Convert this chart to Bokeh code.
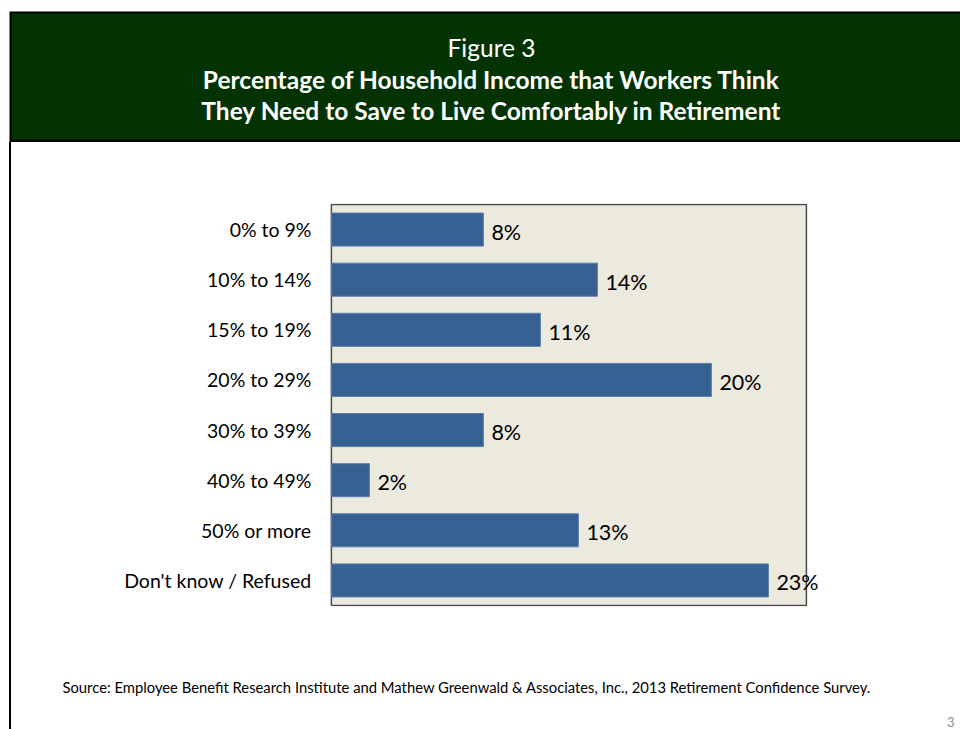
from bokeh.plotting import figure
from bokeh.models import ColumnDataSource, Range1d, FactorRange, LabelSet, BoxAnnotation, Div
from bokeh.layouts import column, row
from bokeh.core.properties import value
from bokeh.embed import file_html
from bokeh.resources import INLINE

# ---- data ----
categories = ["0% to 9%", "10% to 14%", "15% to 19%", "20% to 29%",
              "30% to 39%", "40% to 49%", "50% or more", "Don't know / Refused"]
percentages = [8, 14, 11, 20, 8, 2, 13, 23]
value_labels = [f"{v}%" for v in percentages]
axis_max = 25  # right edge of the plot area, in %

fig_number = "Figure 3"
title_lines = ["Percentage of Household Income that Workers Think",
               "They Need to Save to Live Comfortably in Retirement"]
source_note = ("Source:  Employee Benefit Research Institute and Mathew Greenwald & "
               "Associates, Inc., 2013 Retirement Confidence Survey.")
page_number = "3"

FONT = "Lato"
GREEN = "#033303"
BAR = "#376092"


def blank(width, height, xr, yr):
    f = figure(width=width, height=height, x_range=xr, y_range=yr,
               output_backend="svg", toolbar_location=None,
               x_axis_location=None, y_axis_location=None,
               min_border=0, min_border_left=0, min_border_right=0,
               min_border_top=0, min_border_bottom=0)
    f.grid.visible = False
    f.outline_line_color = None
    f.background_fill_color = "white"
    f.border_fill_color = "white"
    return f


def left_line(height):
    return Div(text="", width=2, height=height, margin=(0, 0, 0, 9),
               styles={"background-color": "black"})


# ---- header ----
H_W, H_H = 960, 142
header = blank(H_W, H_H, Range1d(0, H_W), Range1d(H_H, 0))
header.quad(left=9, right=H_W, top=11, bottom=H_H, fill_color="black", line_color=None)
header.quad(left=11, right=H_W, top=13, bottom=139, fill_color=GREEN, line_color=None)
header.text(x=[491], y=[47], text=[fig_number], text_color="white",
            text_font=value(FONT), text_font_size="24.5px",
            text_align="center", text_baseline="middle")
header.text(x=[491, 491], y=[79, 110], text=title_lines, text_color="white",
            text_font=value(FONT), text_font_size="24.5px", text_font_style="bold",
            text_align="center", text_baseline="middle")

# ---- main chart ----
M_W, M_H = 949, 518
src = ColumnDataSource(dict(cat=categories, val=percentages, lab=value_labels))
p = figure(width=M_W, height=M_H,
           y_range=FactorRange(*reversed(categories), range_padding=0.005),
           x_range=Range1d(-0.1, 27.9),
           output_backend="svg", toolbar_location=None,
           x_axis_location=None,
           min_border_left=318, min_border_right=99,
           min_border_top=61, min_border_bottom=54)
p.background_fill_color = "white"
p.border_fill_color = "white"
p.outline_line_color = None
p.grid.visible = False
plot_area = BoxAnnotation(left=0, right=axis_max, bottom=0, top=len(categories),
                          fill_color="#ECE9DF", fill_alpha=1.0,
                          line_color="#4a4a4a", line_alpha=1.0, line_width=1.5,
                          level="underlay")
p.add_layout(plot_area)
p.hbar(y="cat", right="val", left=0, height=0.66, source=src,
       fill_color=BAR, line_color="#5b7fab", line_width=1)
labels = LabelSet(x="val", y="cat", text="lab", source=src,
                  x_offset=8, y_offset=-2, text_font=value(FONT),
                  text_font_size="21.5px", text_color="black",
                  text_baseline="middle", text_align="left")
p.add_layout(labels)
ya = p.yaxis[0]
ya.axis_line_color = None
ya.major_tick_line_color = None
ya.minor_tick_line_color = None
ya.major_tick_out = 0
ya.major_tick_in = 0
ya.major_label_standoff = 18
ya.major_label_text_font = FONT
ya.major_label_text_font_size = "19.5px"
ya.major_label_text_color = "black"

# ---- footer ----
F_W, F_H = 949, 69
footer = blank(F_W, F_H, Range1d(0, F_W), Range1d(F_H, 0))
footer.text(x=[51], y=[26], text=[source_note], text_color="black",
            text_font=value(FONT), text_font_size="14.8px",
            text_align="left", text_baseline="middle")
footer.text(x=[943], y=[66], text=[page_number], text_color="#8c8c8c",
            text_font=value(FONT), text_font_size="13px",
            text_align="right", text_baseline="bottom")

layout = column(header, row(left_line(M_H), p), row(left_line(F_H), footer))

open("out.html", "w").write(file_html(layout, INLINE))
